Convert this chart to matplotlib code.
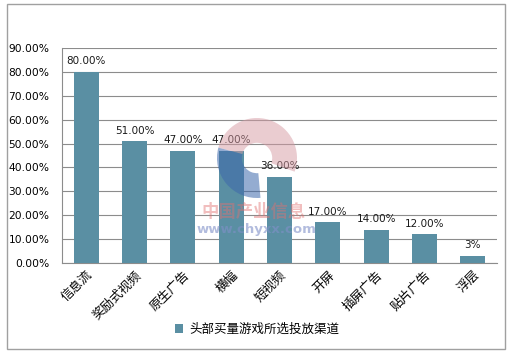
import matplotlib.pyplot as plt
from matplotlib.patches import Rectangle, Wedge

plt.rcParams['font.family'] = ['DejaVu Sans', 'Noto Sans CJK SC']

categories = ['信息流', '奖励式视频', '原生广告', '横幅', '短视频',
              '开屏', '插屏广告', '贴片广告', '浮层']
values = [80, 51, 47, 47, 36, 17, 14, 12, 3]
value_labels = ['80.00%', '51.00%', '47.00%', '47.00%', '36.00%',
                '17.00%', '14.00%', '12.00%', '3%']
series_name = '头部买量游戏所选投放渠道'
yticks = [0, 10, 20, 30, 40, 50, 60, 70, 80, 90]

bar_color = '#5a8fa3'
grid_color = '#8c8c8c'

fig = plt.figure(figsize=[5.14, 3.54], dpi=100)
ax = fig.add_axes([62 / 514, 1 - 263 / 354, 435 / 514, 215 / 354])

x = list(range(len(categories)))
ax.bar(x, values, width=0.52, color=bar_color, label=series_name, zorder=3)
for xi, v, lab in zip(x, values, value_labels):
    ax.annotate(lab, (xi, v), xytext=(0, 4), textcoords='offset points',
                ha='center', va='bottom', fontsize=7.5, color='#1a1a1a', zorder=5)

ax.set_xlim(-0.5, len(categories) - 0.5)
ax.set_ylim(0, 90)
ax.set_yticks(yticks)
ax.set_yticklabels(['%.2f%%' % t for t in yticks], fontsize=7.7)
ax.set_xticks(x)
ax.set_xticklabels(categories, rotation=45, ha='right', rotation_mode='anchor',
                   fontsize=9)
ax.tick_params(axis='both', length=0, pad=4)
ax.tick_params(axis='y', pad=9)
ax.grid(axis='y', color=grid_color, lw=0.8, zorder=0)
for side in ['top', 'right']:
    ax.spines[side].set_visible(False)
ax.spines['left'].set_color(grid_color)
ax.spines['bottom'].set_color(grid_color)

# watermark logo
wm = fig.add_axes([217 / 514, 1 - 198 / 354, 80 / 514, 80 / 354], zorder=6)
wm.set_xlim(-1, 1)
wm.set_ylim(-1, 1)
wm.set_aspect('equal')
wm.axis('off')
wm.patch.set_alpha(0)
wm.add_patch(Wedge((0, 0), 1, -20, 165, width=0.62, color='#d69aa3', alpha=0.5, lw=0))
wm.add_patch(Wedge((0, 0), 1, 165, 275, width=0.62, color='#3d68ac', alpha=0.55, lw=0))
fig.text(254 / 514, 1 - 212 / 354, '中国产业信息', fontsize=12.5, color='#e07070',
         alpha=0.45, ha='center', va='center', fontweight='bold', zorder=7)
fig.text(256 / 514, 1 - 229 / 354, 'www.chyxx.com', fontsize=9.5, color='#8090c8',
         alpha=0.6, ha='center', va='center', fontweight='bold', zorder=7)

ax.legend(loc='center', bbox_to_anchor=(257 / 514, 1 - 329 / 354),
          bbox_transform=fig.transFigure, frameon=False, fontsize=9,
          handlelength=0.7, handleheight=0.7, handletextpad=0.5)

fig.patches.append(Rectangle((7 / 514, 1 - 349 / 354), 498 / 514, 345 / 354,
                             transform=fig.transFigure, fill=False,
                             edgecolor='#a0a0a0', lw=1))

fig.savefig('out.png', dpi=100)
